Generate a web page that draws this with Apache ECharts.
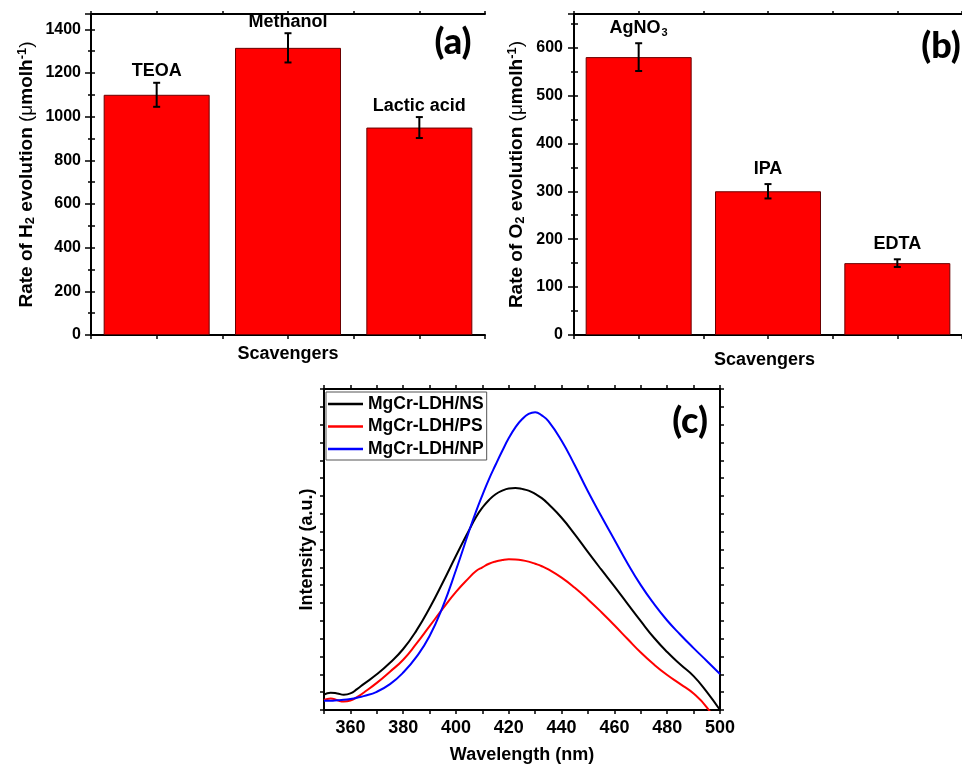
<!DOCTYPE html>
<html>
<head>
<meta charset="utf-8">
<title>Scavenger tests and PL spectra</title>
<script src="https://cdn.jsdelivr.net/npm/echarts@6/dist/echarts.min.js"></script>
<style>
  html, body { margin: 0; padding: 0; background: #ffffff; }
  #chart { width: 962px; height: 765px; }
</style>
</head>
<body>
<div id="chart"></div>
<script>
// ---- (a) H2 evolution with different hole scavengers ----
const scavengersH2 = ['TEOA', 'Methanol', 'Lactic acid'];
const rateH2 = [1100, 1315, 950];
const errH2 = [55, 67, 48];

// ---- (b) O2 evolution with different scavengers ----
const scavengersO2 = ['AgNO3', 'IPA', 'EDTA'];
const rateO2 = [580, 300, 150];
const errO2 = [29, 15, 8];

// ---- (c) photoluminescence spectra ----
const wavelength = [350, 352.5, 355, 357.5, 360, 362.5, 365, 370, 375, 380, 385, 390, 395, 400,
  405, 407.5, 410, 412.5, 415, 417.5, 420, 422.5, 425, 427.5, 430, 432.5, 435,
  440, 445, 450, 455, 460, 465, 470, 475, 480, 485, 490, 495, 500];
const intensityNS = [0.86, 0.97, 0.93, 0.86, 0.93, 1.17, 1.45, 2.00, 2.65, 3.42, 4.45, 5.72, 7.15, 8.65,
  10.10, 10.80, 11.35, 11.78, 12.10, 12.30, 12.42, 12.45, 12.40, 12.30, 12.12, 11.88, 11.55,
  10.78, 9.85, 8.85, 7.88, 6.93, 5.95, 4.98, 4.05, 3.25, 2.55, 1.90, 1.02, 0.00];
const intensityPS = [0.56, 0.65, 0.55, 0.47, 0.53, 0.72, 0.97, 1.52, 2.15, 2.82, 3.72, 4.70, 5.68, 6.62,
  7.42, 7.78, 8.00, 8.20, 8.33, 8.41, 8.45, 8.44, 8.40, 8.32, 8.20, 8.06, 7.88,
  7.42, 6.85, 6.20, 5.50, 4.75, 3.98, 3.22, 2.55, 1.96, 1.45, 0.92, 0.15, -1.00];
const intensityNP = [0.52, 0.52, 0.54, 0.57, 0.62, 0.69, 0.78, 1.02, 1.45, 2.10, 2.98, 4.15, 5.80, 7.85,
  10.05, 11.10, 12.05, 12.95, 13.75, 14.52, 15.25, 15.85, 16.30, 16.60, 16.70, 16.52, 16.20,
  15.10, 13.72, 12.25, 10.88, 9.55, 8.22, 7.00, 5.95, 5.02, 4.22, 3.47, 2.75, 2.02];
const seriesNames = ['MgCr-LDH/NS', 'MgCr-LDH/PS', 'MgCr-LDH/NP'];
const seriesColors = ['#000000', '#ff0000', '#0000ff'];

const FONT = '"Liberation Sans", Arial, Helvetica, sans-serif';
const PANEL_FONT = 'Lato, "Open Sans", sans-serif';
const BLACK = '#000000';

// Rich-text styles for chemical subscripts and unit superscripts
const richText = {
  t: { fontFamily: FONT, fontWeight: 'bold', fontSize: 19, color: BLACK, lineHeight: 21 },
  s: { fontFamily: FONT, fontWeight: 'bold', fontSize: 13, color: BLACK, lineHeight: 13, padding: [10, 0, 0, 0], verticalAlign: 'bottom' },
  u: { fontFamily: FONT, fontWeight: 'normal', fontSize: 19, color: BLACK, lineHeight: 21 },
  p: { fontFamily: FONT, fontWeight: 'bold', fontSize: 13, color: BLACK, lineHeight: 13, padding: [0, 0, 8, 0], verticalAlign: 'top' }
};
const richLabel = {
  t: { fontFamily: FONT, fontWeight: 'bold', fontSize: 18, color: BLACK, lineHeight: 20 },
  s: { fontFamily: FONT, fontWeight: 'bold', fontSize: 11, color: BLACK, lineHeight: 11, padding: [11, 0, 0, 1], verticalAlign: 'bottom' }
};

// "AgNO3" -> "{t|AgNO}{s|3}"
function chem(name) {
  return name.split(/(\d+)/).filter(Boolean)
    .map(part => /^\d+$/.test(part) ? '{s|' + part + '}' : '{t|' + part + '}')
    .join('');
}

const tickStyle = { color: BLACK, width: 1.5 };
const lineStyleAxis = { color: BLACK, width: 2 };

function barX(i) { return 2 * i + 1; }

function barSeries(xi, yi, values) {
  return {
    type: 'bar', xAxisIndex: xi, yAxisIndex: yi,
    data: values.map((v, i) => [barX(i), v]),
    barWidth: 106,
    itemStyle: { color: '#ff0000', borderColor: '#6a0000', borderWidth: 1 },
    silent: true
  };
}

// error bar with the scavenger name written above it
function errorSeries(xi, yi, values, errs, names, labelGap) {
  return {
    type: 'custom', xAxisIndex: xi, yAxisIndex: yi, z: 5, clip: false,
    data: values.map((v, i) => [barX(i), v, errs[i]]),
    renderItem(params, api) {
      const x = api.value(0), v = api.value(1), e = api.value(2);
      const top = api.coord([x, v + e]);
      const bot = api.coord([x, v - e]);
      const w = 3.5;
      const st = { stroke: BLACK, lineWidth: 2 };
      return {
        type: 'group',
        children: [
          { type: 'line', shape: { x1: top[0], y1: top[1], x2: bot[0], y2: bot[1] }, style: st },
          { type: 'line', shape: { x1: top[0] - w, y1: top[1], x2: top[0] + w, y2: top[1] }, style: st },
          { type: 'line', shape: { x1: bot[0] - w, y1: bot[1], x2: bot[0] + w, y2: bot[1] }, style: st },
          {
            type: 'text', x: top[0], y: top[1] - labelGap,
            style: {
              text: chem(names[params.dataIndex]), rich: richLabel,
              align: 'center', verticalAlign: 'bottom',
              fontFamily: FONT, fontWeight: 'bold', fontSize: 18, fill: BLACK
            }
          }
        ]
      };
    }
  };
}

function categoryAxis(gridIndex, position, tickLen, extra) {
  return Object.assign({
    gridIndex, type: 'value', position, min: 0, max: 6, interval: 1,
    axisLine: { show: true, onZero: false, lineStyle: lineStyleAxis },
    axisTick: { show: true, inside: false, length: tickLen, lineStyle: tickStyle },
    axisLabel: { show: false },
    splitLine: { show: false }
  }, extra || {});
}

function mirrorY(gridIndex, max, interval) {
  return {
    gridIndex, type: 'value', position: 'right', min: 0, max, interval,
    axisLine: { show: true, lineStyle: lineStyleAxis },
    axisTick: { show: true, inside: false, length: 4, lineStyle: tickStyle },
    axisLabel: { show: false },
    splitLine: { show: false }
  };
}

function spectrum(i, values) {
  return {
    name: seriesNames[i], type: 'line', xAxisIndex: 4, yAxisIndex: 4,
    data: wavelength.map((w, k) => [w, values[k]]),
    smooth: 0.5, symbol: 'none', showSymbol: false, clip: true,
    lineStyle: { color: seriesColors[i], width: 2 },
    itemStyle: { color: seriesColors[i] }
  };
}

function panelTag(text, x, y) {
  return {
    type: 'text', x, y,
    style: { text, fontFamily: PANEL_FONT, fontWeight: 900, fontSize: 36, fill: BLACK, align: 'center', verticalAlign: 'middle' }
  };
}

const option = {
  animation: false,
  backgroundColor: '#ffffff',
  grid: [
    { left: 91, top: 14, width: 394, height: 321 },
    { left: 574, top: 14, width: 395, height: 321 },
    { left: 324, top: 389, width: 396, height: 321 }
  ],
  legend: {
    data: seriesNames.map(n => ({ name: n, icon: 'rect' })),
    orient: 'vertical',
    left: 326, top: 392,
    itemWidth: 35, itemHeight: 2.5, itemGap: 4.5,
    padding: [3, 3, 2, 2],
    borderColor: '#555555', borderWidth: 1,
    backgroundColor: '#ffffff',
    textStyle: { fontFamily: FONT, fontWeight: 'bold', fontSize: 17.5, color: BLACK }
  },
  xAxis: [
    categoryAxis(0, 'bottom', 4, {
      name: 'Scavengers', nameLocation: 'middle', nameGap: 10,
      nameTextStyle: { fontFamily: FONT, fontWeight: 'bold', fontSize: 18, color: BLACK }
    }),
    categoryAxis(0, 'top', 3),
    categoryAxis(1, 'bottom', 4, {
      name: 'Scavengers', nameLocation: 'middle', nameGap: 16,
      nameTextStyle: { fontFamily: FONT, fontWeight: 'bold', fontSize: 18, color: BLACK, padding: [0, 7, 0, 0] }
    }),
    categoryAxis(1, 'top', 3),
    {
      gridIndex: 2, type: 'value', position: 'bottom', min: 350, max: 500, interval: 10,
      axisLine: { show: true, onZero: false, lineStyle: lineStyleAxis },
      axisTick: { show: true, inside: false, length: 4, lineStyle: tickStyle },
      axisLabel: {
        margin: 9, fontFamily: FONT, fontWeight: 'bold', fontSize: 18, color: BLACK,
        formatter: v => (v % 20 === 0 ? String(v) : '')
      },
      splitLine: { show: false },
      name: 'Wavelength (nm)', nameLocation: 'middle', nameGap: 36,
      nameTextStyle: { fontFamily: FONT, fontWeight: 'bold', fontSize: 18, color: BLACK }
    },
    {
      gridIndex: 2, type: 'value', position: 'top', min: 350, max: 500, interval: 10,
      axisLine: { show: true, onZero: false, lineStyle: lineStyleAxis },
      axisTick: { show: true, inside: false, length: 4, lineStyle: tickStyle },
      axisLabel: { show: false },
      splitLine: { show: false }
    }
  ],
  yAxis: [
    {
      gridIndex: 0, type: 'value', position: 'left', min: 0, max: 1470, interval: 200,
      axisLine: { show: true, lineStyle: lineStyleAxis },
      axisTick: { show: true, inside: false, length: 6, lineStyle: tickStyle },
      minorTick: { show: true, splitNumber: 2, length: 3, lineStyle: tickStyle },
      axisLabel: {
        margin: 10, fontFamily: FONT, fontWeight: 'bold', fontSize: 16, color: BLACK,
        formatter: v => (v % 200 === 0 ? String(v) : '')
      },
      splitLine: { show: false },
      name: '{t|Rate of H}{s|2}{t| evolution }{u|(μ}{t|molh}{p|-1}{u|)}',
      nameLocation: 'middle', nameRotate: 90, nameGap: 54,
      nameTextStyle: { rich: richText }
    },
    mirrorY(0, 1470, 100),
    {
      gridIndex: 1, type: 'value', position: 'left', min: 0, max: 670, interval: 100,
      axisLine: { show: true, lineStyle: lineStyleAxis },
      axisTick: { show: true, inside: false, length: 6, lineStyle: tickStyle },
      minorTick: { show: true, splitNumber: 2, length: 3, lineStyle: tickStyle },
      axisLabel: {
        margin: 11, fontFamily: FONT, fontWeight: 'bold', fontSize: 16, color: BLACK,
        formatter: v => (v % 100 === 0 ? String(v) : '')
      },
      splitLine: { show: false },
      name: '{t|Rate of O}{s|2}{t| evolution }{u|(μ}{t|molh}{p|-1}{u|)}',
      nameLocation: 'middle', nameRotate: 90, nameGap: 47,
      nameTextStyle: { rich: richText }
    },
    mirrorY(1, 670, 50),
    {
      gridIndex: 2, type: 'value', position: 'left', min: 0, max: 18, interval: 1,
      axisLine: { show: true, lineStyle: lineStyleAxis },
      axisTick: { show: true, inside: false, length: 4, lineStyle: tickStyle },
      axisLabel: { show: false },
      splitLine: { show: false },
      name: 'Intensity (a.u.)', nameLocation: 'middle', nameRotate: 90, nameGap: 8,
      nameTextStyle: { fontFamily: FONT, fontWeight: 'bold', fontSize: 18, color: BLACK }
    },
    mirrorY(2, 18, 1)
  ],
  graphic: [
    panelTag('(a)', 453, 42),
    panelTag('(b)', 941, 46),
    panelTag('(c)', 690, 421)
  ],
  series: [
    barSeries(0, 0, rateH2),
    errorSeries(0, 0, rateH2, errH2, scavengersH2, 1.5),
    barSeries(2, 2, rateO2),
    errorSeries(2, 2, rateO2, errO2, scavengersO2, 5),
    spectrum(0, intensityNS),
    spectrum(1, intensityPS),
    spectrum(2, intensityNP)
  ]
};

const chart = echarts.init(document.getElementById('chart'), null, { renderer: 'canvas' });
chart.setOption(option);
</script>
</body>
</html>
